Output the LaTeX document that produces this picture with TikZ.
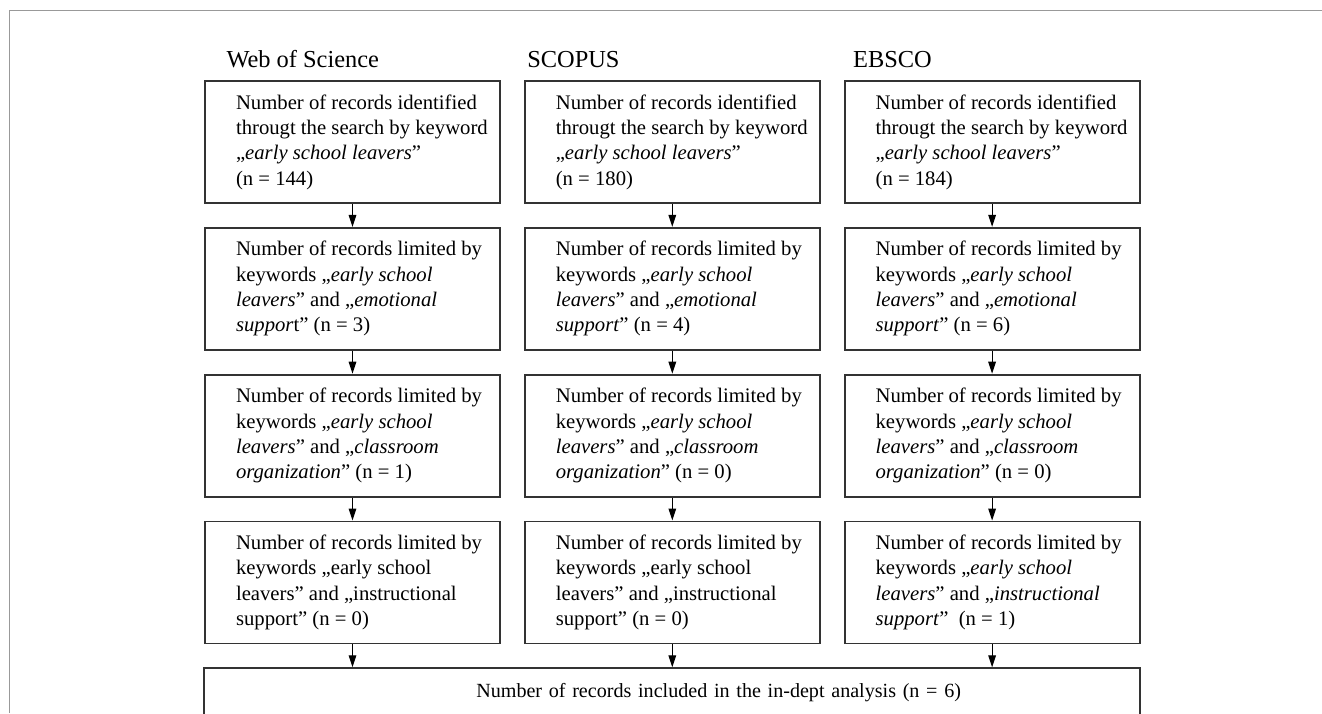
\documentclass[tikz,border=0pt]{standalone}
\usepackage{fontspec}
\setmainfont{Liberation Serif}
\usetikzlibrary{positioning, arrows.meta}

\newcommand{\reclines}[1]{\makebox[116.5pt][l]{\begin{tabular}{@{}l@{}}#1\end{tabular}}}

\begin{document}
\begin{tikzpicture}[node distance=11.5pt,
	rec/.style={draw=black!80, line width=0.9pt, minimum width=147.5pt, minimum height=61pt,
		inner xsep=15.5pt, inner ysep=0pt,
		font=\fontsize{10.35pt}{12.65pt}\selectfont},
	total/.style={draw=black!80, line width=0.9pt, minimum width=468pt, text width=460pt,
		inner xsep=4pt, inner ysep=4pt, text height=10.5pt, text depth=24pt, align=left,
		font=\fontsize{10.05pt}{12.65pt}\selectfont},
	db/.style={anchor=base west, inner sep=0pt, font=\fontsize{12.2pt}{14pt}\selectfont},
	flow/.style={-{Triangle[length=6pt,width=3.8pt]}, line width=0.6pt}]
					\useasboundingbox (0,0) rectangle (661pt,-356.5pt);
					\draw[black!40, line width=0.5pt] (4.5pt,-356.5pt) -- (4.5pt,-5.25pt) -- (661pt,-5.25pt);
					
					\node[rec] (w1) at (176.25pt,-71pt) {\reclines{Number of records identified\\ througt the search by keyword\\ „\textit{early school leavers}”\\ (n = 144)}};
					\node[rec, below=of w1] (w2) {\reclines{Number of records limited by\\ keywords „\textit{early school}\\ \textit{leavers}” and „\textit{emotional}\\ \textit{suppor}t” (n = 3)}};
					\node[rec, below=of w2] (w3) {\reclines{Number of records limited by\\ keywords „\textit{early school}\\ \textit{leavers}” and „\textit{classroom}\\ \textit{organization}” (n = 1)}};
					\node[rec, below=of w3] (w4) {\reclines{Number of records limited by\\ keywords „early school\\ leavers” and „instructional\\ support” (n = 0)}};
					
					\node[rec, right=of w1] (s1) {\reclines{Number of records identified\\ througt the search by keyword\\ „\textit{early school leavers}”\\ (n = 180)}};
					\node[rec, below=of s1] (s2) {\reclines{Number of records limited by\\ keywords „\textit{early school}\\ \textit{leavers}” and „\textit{emotional}\\ \textit{support}” (n = 4)}};
					\node[rec, below=of s2] (s3) {\reclines{Number of records limited by\\ keywords „\textit{early school}\\ \textit{leavers}” and „\textit{classroom}\\ \textit{organization}” (n = 0)}};
					\node[rec, below=of s3] (s4) {\reclines{Number of records limited by\\ keywords „early school\\ leavers” and „instructional\\ support” (n = 0)}};
					
					\node[rec, right=of s1] (e1) {\reclines{Number of records identified\\ througt the search by keyword\\ „\textit{early school leavers}”\\ (n = 184)}};
					\node[rec, below=of e1] (e2) {\reclines{Number of records limited by\\ keywords „\textit{early school}\\ \textit{leavers}” and „\textit{emotional}\\ \textit{support}” (n = 6)}};
					\node[rec, below=of e2] (e3) {\reclines{Number of records limited by\\ keywords „\textit{early school}\\ \textit{leavers}” and „\textit{classroom}\\ \textit{organization}” (n = 0)}};
					\node[rec, below=of e3] (e4) {\reclines{Number of records limited by\\ keywords „\textit{early school}\\ \textit{leavers}” and „\textit{instructional}\\ \textit{support}”~ (n = 1)}};
					
					\node[total, below=of s4] (incl) {\hspace*{132pt}Number of records included in the in-dept analysis (n = 6)};
					
					\node[db, above=6.5pt of w1.north west, anchor=base west, xshift=11pt] (wos) {Web of Science};
					\node[db, above=6.5pt of s1.north west, anchor=base west, xshift=1.5pt] (scopus) {SCOPUS};
					\node[db, above=6.5pt of e1.north west, anchor=base west, xshift=4.5pt] (ebsco) {EBSCO};
					
					\draw
					(w1) edge[flow] (w2)
					(w2) edge[flow] (w3)
					(w3) edge[flow] (w4)
					(w4.south) edge[flow] (w4.south |- incl.north)
					(s1) edge[flow] (s2)
					(s2) edge[flow] (s3)
					(s3) edge[flow] (s4)
					(s4) edge[flow] (incl)
					(e1) edge[flow] (e2)
					(e2) edge[flow] (e3)
					(e3) edge[flow] (e4)
					(e4.south) edge[flow] (e4.south |- incl.north);
				\end{tikzpicture}
\end{document}
